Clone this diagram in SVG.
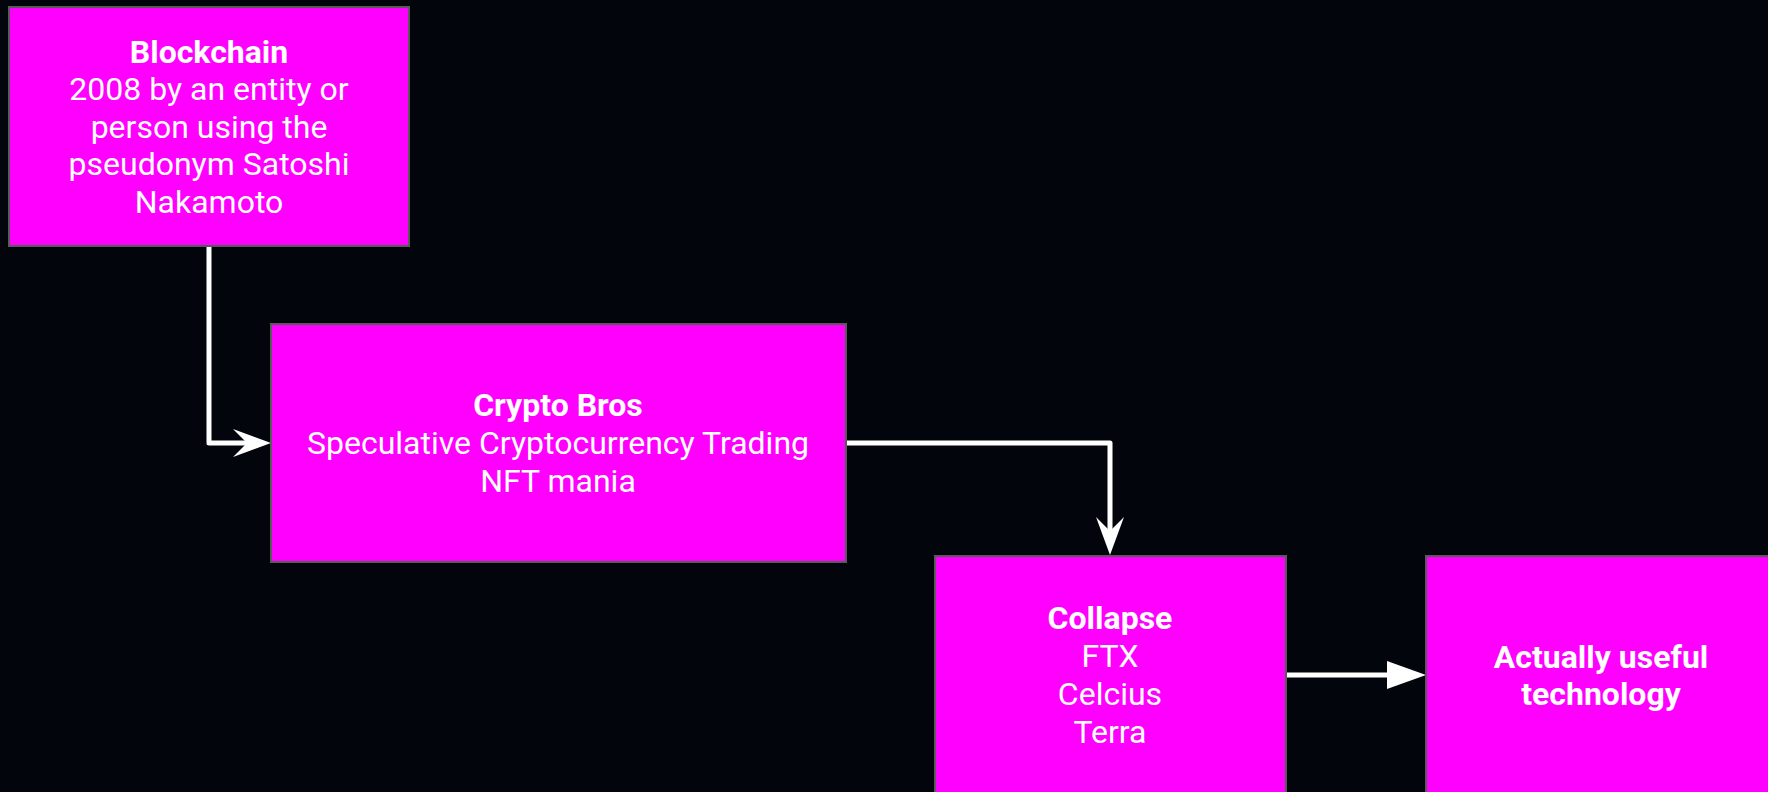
<svg xmlns="http://www.w3.org/2000/svg" width="1768" height="792" viewBox="0 0 1768 792">
  <style>
    .box { fill: #ff00ff; stroke: #5a5a5a; stroke-width: 2; }
    .lbl { font-family: Roboto, "Liberation Sans", sans-serif; font-size: 32px; fill: #ffffff; text-anchor: middle; }
    .b { font-weight: bold; }
    .wire { fill: none; stroke: #ffffff; stroke-width: 5; stroke-linejoin: round; }
  </style>
  <defs>
    <marker id="classic" markerUnits="userSpaceOnUse" viewBox="0 0 40 28" markerWidth="40" markerHeight="28" refX="18" refY="14" orient="auto">
      <path d="M38,14 L0,0 L14,14 L0,28 Z" fill="#ffffff"/>
    </marker>
    <marker id="block" markerUnits="userSpaceOnUse" viewBox="0 0 40 28" markerWidth="40" markerHeight="28" refX="19" refY="14" orient="auto">
      <path d="M39,14 L0,0 L0,28 Z" fill="#ffffff"/>
    </marker>
  </defs>

  <rect width="1768" height="792" fill="#02060c"/>

  <g id="connectors">
    <path class="wire" d="M209,246 L209,443 L251,443" marker-end="url(#classic)"/>
    <path class="wire" d="M846,443 L1110,443 L1110,535" marker-end="url(#classic)"/>
    <path class="wire" d="M1286,675 L1406,675" marker-end="url(#block)"/>
  </g>

  <g id="blockchain">
    <rect class="box" x="9" y="7" width="400" height="239"/>
    <text class="lbl b" x="209" y="62.5">Blockchain</text>
    <text class="lbl" x="209" y="100">2008 by an entity or</text>
    <text class="lbl" x="209" y="137.5">person using the</text>
    <text class="lbl" x="209" y="175">pseudonym Satoshi</text>
    <text class="lbl" x="209" y="212.5">Nakamoto</text>
  </g>

  <g id="crypto-bros">
    <rect class="box" x="271" y="324" width="575" height="238"/>
    <text class="lbl b" x="558" y="416">Crypto Bros</text>
    <text class="lbl" x="558" y="454">Speculative Cryptocurrency Trading</text>
    <text class="lbl" x="558" y="492">NFT mania</text>
  </g>

  <g id="collapse">
    <rect class="box" x="935" y="556" width="351" height="260"/>
    <text class="lbl b" x="1110" y="629">Collapse</text>
    <text class="lbl" x="1110" y="667">FTX</text>
    <text class="lbl" x="1110" y="705">Celcius</text>
    <text class="lbl" x="1110" y="743">Terra</text>
  </g>

  <g id="useful-tech">
    <rect class="box" x="1426" y="556" width="351" height="260"/>
    <text class="lbl b" x="1601" y="667.5">Actually useful</text>
    <text class="lbl b" x="1601" y="705">technology</text>
  </g>
</svg>
